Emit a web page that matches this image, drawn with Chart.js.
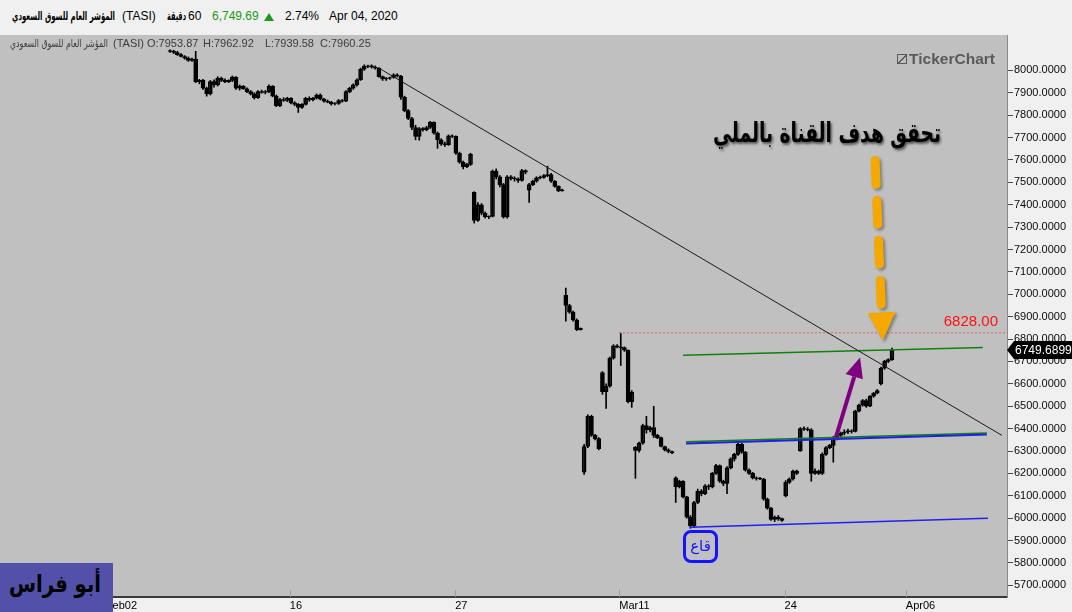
<!DOCTYPE html>
<html><head><meta charset="utf-8">
<script src="https://cdn.jsdelivr.net/npm/chart.js@4/dist/chart.umd.min.js"></script>
<style>
body{margin:0;width:1072px;height:612px;overflow:hidden;background:#f0f0f0;font-family:"Liberation Sans",Arial,sans-serif;position:relative}
#wrap{position:absolute;left:0;top:35px;width:1072px;height:577px}
.a{position:absolute;white-space:nowrap}
.h{top:9px;font-size:12px;color:#000}
.o{top:37px;font-size:11px;color:#3c3c3c}
.ar{font-family:"DejaVu Sans",sans-serif}
</style></head><body>
<div id="wrap"><canvas id="c" width="1072" height="577"></canvas></div>

<span class="a h ar" data-w="103" style="left:12px;top:9px;font-size:12px;font-weight:bold">المؤشر العام للسوق السعودي</span>
<span class="a h" style="left:122px">(TASI)</span>
<span class="a h ar" data-w="19" style="left:167px;top:9px;font-size:12px;font-weight:bold">دقيقة</span>
<span class="a h" style="left:188px">60</span>
<span class="a h" style="left:212px;color:#1c9a1c">6,749.69</span>
<span class="a" style="left:264px;top:13px;width:0;height:0;border-left:5px solid transparent;border-right:5px solid transparent;border-bottom:8px solid #1c9a1c"></span>
<span class="a h" style="left:285px">2.74%</span>
<span class="a h" style="left:329px">Apr 04, 2020</span>

<span class="a o ar" data-w="98" style="left:10px;top:37px;font-size:11px">المؤشر العام للسوق السعودي</span>
<span class="a o" style="left:113px">(TASI)</span>
<span class="a o" style="left:147px">O:7953.87</span>
<span class="a o" style="left:203px">H:7962.92</span>
<span class="a o" style="left:265px">L:7939.58</span>
<span class="a o" style="left:320px">C:7960.25</span>

<div class="a" style="left:897px;top:54px;width:10px;height:10px;border:1px solid #5a5a5a;box-sizing:border-box;background:linear-gradient(135deg,transparent 45%,#5a5a5a 45%,#5a5a5a 60%,transparent 60%)"></div>
<span class="a" data-w="86" style="left:909px;top:51px;font-size:14px;font-weight:bold;color:#5a5a5a">TickerChart</span>

<span class="a ar" data-w="228" style="left:713px;top:117px;font-size:27px;font-weight:bold;color:#000;text-shadow:2px 2px 3px rgba(0,0,0,0.55)">تحقق هدف القناة بالملي</span>

<div class="a ar" style="left:683px;top:530px;width:35px;height:33px;box-sizing:border-box;border:3px solid #1414ff;border-radius:8px;color:#1414ff;font-size:15px;text-align:center;line-height:26px">قاع</div>

<div class="a" style="left:0;top:563px;width:113px;height:49px;background:#5250a8"></div>
<span class="a ar" data-w="92" style="left:9px;top:570px;font-size:24px;font-weight:bold;color:#000">أبو فراس</span>

<script>
// fit overlay texts to measured widths
document.querySelectorAll('[data-w]').forEach(el => {
  const w = +el.dataset.w, r = el.getBoundingClientRect().width;
  el.style.transformOrigin = 'left center';
  el.style.transform = 'scaleX(' + (w / r) + ')';
});

// ---- data (hourly bars, TASI) ----
const opens  = [8088,8085,8080,8070,8062,8055,8045,8050,7950,7955,7920,7895,7950,7935,7965,7955,7950,7955,7970,7920,7930,7918,7905,7895,7878,7905,7902,7905,7930,7885,7842,7870,7866,7875,7855,7848,7835,7848,7875,7868,7876,7890,7872,7862,7858,7850,7852,7865,7862,7905,7920,7935,7958,8005,8018,8020,8015,8010,7972,7962,7965,7968,7980,7975,7880,7820,7785,7745,7705,7740,7735,7745,7768,7720,7690,7672,7668,7708,7705,7630,7590,7570,7580,7455,7330,7400,7362,7345,7348,7550,7525,7490,7345,7525,7518,7515,7508,7552,7465,7490,7505,7520,7522,7530,7535,7505,7482,7462,6995,6950,6920,6885,6842,6205,6320,6455,6370,6355,6650,6565,6590,6715,6770,6765,6762,6750,6520,6316,6303,6335,6414,6395,6405,6370,6360,6320,6305,6298,6180,6140,6165,6095,6005,5965,6070,6120,6110,6145,6140,6200,6235,6165,6155,6225,6265,6285,6330,6295,6215,6200,6180,6178,6175,6085,6045,5995,6005,5998,6100,6160,6175,6210,6300,6400,6398,6395,6200,6210,6200,6285,6315,6325,6355,6370,6380,6385,6390,6388,6478,6505,6525,6500,6545,6558,6600,6670,6700,6708];
const highs  = [8092,8090,8085,8075,8066,8060,8055,8085,7960,7960,7925,7955,7958,7972,7970,7962,7958,7975,7972,7935,7932,7922,7910,7900,7910,7912,7910,7935,7932,7890,7875,7878,7880,7878,7860,7852,7852,7880,7882,7880,7895,7895,7875,7868,7862,7856,7870,7870,7910,7925,7940,7962,8010,8025,8024,8025,8020,8012,7975,7968,7970,7985,7985,7978,7885,7825,7790,7755,7745,7745,7750,7772,7770,7725,7695,7680,7712,7712,7708,7635,7595,7585,7630,7458,7410,7405,7368,7350,7555,7560,7530,7495,7530,7530,7525,7520,7558,7556,7495,7510,7525,7528,7535,7572,7540,7508,7485,7470,7028,6955,6925,6890,6850,6330,6462,6460,6375,6360,6655,6600,6720,6775,6775,6826,6765,6752,6570,6320,6340,6420,6455,6410,6500,6375,6362,6322,6310,6300,6185,6170,6168,6098,6012,6075,6130,6128,6150,6150,6205,6240,6238,6170,6230,6270,6290,6340,6335,6298,6220,6205,6185,6182,6178,6090,6048,6010,6012,6000,6168,6180,6215,6215,6405,6408,6405,6400,6220,6215,6292,6320,6330,6365,6375,6385,6395,6398,6395,6482,6510,6530,6532,6548,6562,6575,6675,6705,6712,6760];
const lows   = [8080,8075,8067,8060,8050,8040,8040,7945,7940,7915,7885,7890,7925,7930,7950,7945,7945,7950,7915,7912,7915,7900,7890,7872,7875,7898,7895,7900,7882,7838,7838,7862,7860,7850,7842,7812,7830,7845,7862,7864,7872,7868,7858,7855,7845,7846,7848,7858,7860,7900,7915,7930,7955,8000,8012,8010,8005,7970,7955,7955,7960,7965,7970,7870,7815,7780,7735,7690,7688,7728,7730,7740,7715,7652,7665,7660,7665,7700,7625,7585,7560,7565,7575,7318,7325,7355,7340,7338,7345,7515,7480,7340,7340,7510,7505,7500,7505,7538,7410,7485,7500,7515,7518,7525,7500,7478,7458,7460,6880,6915,6880,6838,6840,6195,6315,6365,6350,6305,6553,6490,6585,6710,6760,6682,6745,6515,6495,6178,6295,6330,6380,6385,6360,6355,6318,6300,6292,6288,6070,6135,6090,6000,5955,5958,6065,6100,6105,6128,6135,6195,6160,6145,6110,6220,6255,6280,6290,6210,6195,6175,6170,6172,6080,6040,5990,5985,5990,5985,6095,6155,6170,6195,6298,6392,6390,6165,6195,6195,6195,6280,6310,6250,6350,6365,6372,6378,6380,6385,6475,6500,6495,6498,6540,6555,6595,6665,6695,6705];
const closes = [8085,8080,8070,8062,8055,8045,8050,7950,7955,7920,7895,7950,7935,7965,7955,7950,7955,7970,7920,7930,7918,7905,7895,7878,7905,7902,7905,7930,7885,7842,7870,7866,7875,7855,7848,7835,7848,7875,7868,7876,7890,7872,7862,7858,7850,7852,7865,7862,7905,7920,7935,7958,8005,8018,8020,8015,8010,7972,7962,7965,7968,7980,7975,7880,7820,7785,7745,7705,7740,7735,7745,7768,7720,7690,7672,7668,7708,7705,7630,7590,7570,7580,7625,7330,7400,7362,7345,7348,7550,7525,7490,7345,7525,7518,7515,7508,7552,7545,7490,7505,7520,7522,7530,7535,7505,7482,7462,7466,6950,6920,6885,6842,6848,6320,6455,6370,6355,6310,6565,6590,6715,6770,6765,6762,6750,6520,6562,6303,6335,6414,6395,6405,6370,6360,6320,6305,6298,6292,6140,6165,6095,6005,5965,6070,6120,6110,6145,6140,6200,6235,6165,6155,6225,6265,6285,6330,6295,6215,6200,6180,6178,6175,6085,6045,5995,6005,5998,5990,6160,6175,6210,6200,6400,6398,6395,6200,6210,6200,6285,6315,6325,6355,6370,6380,6385,6390,6388,6478,6505,6525,6500,6545,6558,6570,6670,6700,6708,6750];

const xTickPos    = [-17.5, 32.7, 77.8, 122.6, 167.7, 200.8];
const xTickLabels = ['Feb02', '16', '27', 'Mar11', '24', 'Apr06'];
const yTicks = [5700,5800,5900,6000,6100,6200,6300,6400,6500,6600,6700,6800,6900,7000,7100,7200,7300,7400,7500,7600,7700,7800,7900,8000];
const xRange = [-46.4, 228.4];
const yRange = [5648, 8158];

// drawn lines (bar index, price)
const downTrend   = [{x:57.3, y:8007}, {x:227.0, y:6370}];
const upperGreen  = [{x:140.0, y:6728}, {x:221.8, y:6762}];
const midBlue     = [{x:140.8, y:6334}, {x:222.9, y:6374}];
const midGreen    = [{x:140.8, y:6341}, {x:222.9, y:6381}];
const lowBlue     = [{x:141.9, y:5959}, {x:223.2, y:6000}];
const targetLine  = [{x:122.5, y:6828}, {x:228.4, y:6828}];
const targetLabel = '6828.00';
const purpleArrow = [{x:181.7, y:6361}, {x:188.3, y:6718}];
const orangeArrow = [{x:192.4, y:7598}, {x:194.5, y:6794}];

const idx = closes.map((_, i) => i);
const bodies = idx.map(i => ({x:i, y:[opens[i], closes[i]]}));
const wicks  = idx.map(i => ({x:i, y:[lows[i], highs[i]]}));
const bodyFill = idx.map(i => closes[i] >= opens[i] ? 'rgba(0,0,0,0)' : '#000');

function lineDS(data, color, width, dash){
  return {type:'line', data, borderColor:color, borderWidth:width, borderDash:dash||[], pointRadius:0, fill:false, tension:0, order:0};
}

const bgPlugin = {
  id:'bg',
  beforeDraw(ch){
    const a = ch.chartArea, c = ch.ctx;
    c.save(); c.fillStyle = '#c0c0c0'; c.fillRect(a.left, 0, a.right - a.left, a.bottom); c.restore();
  },
  afterDatasetsDraw(ch){
    const c = ch.ctx, xs = ch.scales.x, ys = ch.scales.y, a = ch.chartArea;
    c.save(); c.strokeStyle = '#9a9a9a'; c.lineWidth = 1;
    xTickPos.forEach(v => { const X = Math.round(xs.getPixelForValue(v)) + 0.5; c.beginPath(); c.moveTo(X, a.bottom - 7); c.lineTo(X, a.bottom); c.stroke(); });
    c.restore();
    c.save(); c.fillStyle = '#ff1010'; c.font = '15px "Liberation Sans", Arial'; c.textAlign = 'right'; c.textBaseline = 'bottom';
    c.fillText(targetLabel, 998, ys.getPixelForValue(targetLine[0].y) - 3); c.restore();
    const P = p => [xs.getPixelForValue(p.x), ys.getPixelForValue(p.y)];
    function arrow(from, to, color, w, headLen, headHalf, dash, shadow){
      const [x1,y1] = P(from), [x2,y2] = P(to);
      const dx = x2-x1, dy = y2-y1, L = Math.hypot(dx,dy), ux = dx/L, uy = dy/L;
      const bx = x2 - ux*headLen, by = y2 - uy*headLen;
      c.save();
      if (shadow){ c.shadowColor='rgba(0,0,0,0.35)'; c.shadowBlur=3; c.shadowOffsetX=2; c.shadowOffsetY=2; }
      c.strokeStyle = color; c.fillStyle = color; c.lineWidth = w; c.lineCap = dash ? 'round' : 'butt';
      c.setLineDash(dash || []);
      c.beginPath(); c.moveTo(x1,y1); c.lineTo(bx - ux*(dash?6:0), by - uy*(dash?6:0)); c.stroke();
      c.setLineDash([]);
      c.beginPath(); c.moveTo(x2,y2); c.lineTo(bx - uy*headHalf, by + ux*headHalf); c.lineTo(bx + uy*headHalf, by - ux*headHalf); c.closePath(); c.fill();
      c.restore();
    }
    arrow(purpleArrow[0], purpleArrow[1], '#800080', 4, 20, 9, null, false);
    arrow(orangeArrow[0], orangeArrow[1], '#f5a800', 9, 28, 14, [24,16], true);
  },
  afterDraw(ch){
    const c = ch.ctx, ys = ch.scales.y;
    const y = Math.round(ys.getPixelForValue(closes[closes.length-1]));
    c.save(); c.fillStyle = '#000';
    c.beginPath(); c.moveTo(1007, y); c.lineTo(1014, y-9); c.lineTo(1072, y-9); c.lineTo(1072, y+9); c.lineTo(1014, y+9); c.closePath(); c.fill();
    c.fillStyle = '#fff'; c.font = '12px "Liberation Sans", Arial'; c.textBaseline = 'middle'; c.textAlign = 'left';
    c.fillText('6749.6899', 1015, y + 1);
    c.restore();
  }
};

new Chart(document.getElementById('c'), {
  type:'bar',
  data:{
    datasets:[
      lineDS(downTrend, '#1a1a1a', 1),
      lineDS(targetLine, '#d86060', 1, [2,2]),
      lineDS(upperGreen, '#108010', 1.5),
      lineDS(midBlue, '#2020e0', 2),
      lineDS(midGreen, '#108010', 1.5),
      lineDS(lowBlue, '#2020f0', 1.5),
      {type:'bar', data:wicks, backgroundColor:'#000', borderWidth:0, barThickness:1, grouped:false, order:2},
      {type:'bar', data:bodies, backgroundColor:bodyFill, borderColor:'#000', borderWidth:1, borderSkipped:false, barThickness:4, grouped:false, order:1}
    ]
  },
  options:{
    responsive:false, animation:false,
    layout:{padding:0},
    plugins:{legend:{display:false}, tooltip:{enabled:false}},
    scales:{
      x:{type:'linear', min:xRange[0], max:xRange[1], offset:false,
         grid:{display:false, drawTicks:false},
         border:{display:true, color:'#3a3a3a', width:2},
         afterBuildTicks:s => { s.ticks = xTickPos.map(v => ({value:v})); },
         ticks:{autoSkip:false, maxRotation:0, align:'start', padding:2, color:'#000', font:{size:11, family:'Liberation Sans'}, callback:(v,i) => xTickLabels[i]},
         afterFit:s => { s.height = 15; s.paddingLeft = 0; s.paddingRight = 0; }},
      y:{position:'right', min:yRange[0], max:yRange[1],
         grid:{display:true, drawOnChartArea:false, drawTicks:true, tickLength:6, color:'#4a4a4a'},
         border:{display:true, color:'#8a8a8a'},
         afterBuildTicks:s => { s.ticks = yTicks.map(v => ({value:v})); },
         ticks:{padding:1, color:'#0a0a0a', font:{size:11, family:'Liberation Sans'}, callback:v => v.toFixed(4)},
         afterFit:s => { s.width = 65; s.paddingTop = 0; s.paddingBottom = 0; }}
    }
  },
  plugins:[bgPlugin]
});
</script>
</body></html>
